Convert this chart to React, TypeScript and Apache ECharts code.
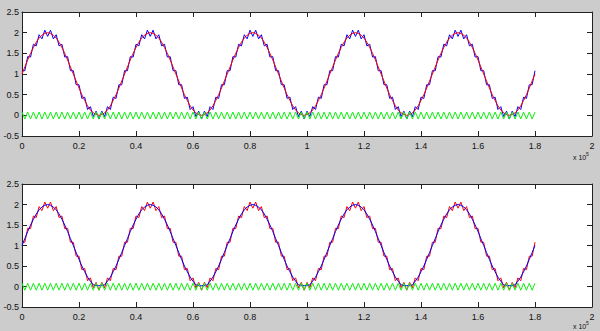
import React, { useEffect, useRef } from "react";
import * as echarts from "echarts";

// sample positions (x in samples, axis shown in units of 10^5)
const sampleIndex: number[] = Array.from({ length: 181 }, (_, i) => i);
const sampleStep = 1000;

// smooth reference signal (top: red)
const cleanSignal: number[] = [
  1.00, 1.17, 1.34, 1.50, 1.64, 1.77, 1.87, 1.94, 1.98, 2.00, 1.98, 1.94, 1.87, 1.77, 1.64, 1.50, 1.34, 1.17,
  1.00, 0.83, 0.66, 0.50, 0.36, 0.23, 0.13, 0.06, 0.02, 0.00, 0.02, 0.06, 0.13, 0.23, 0.36, 0.50, 0.66, 0.83,
  1.00, 1.17, 1.34, 1.50, 1.64, 1.77, 1.87, 1.94, 1.98, 2.00, 1.98, 1.94, 1.87, 1.77, 1.64, 1.50, 1.34, 1.17,
  1.00, 0.83, 0.66, 0.50, 0.36, 0.23, 0.13, 0.06, 0.02, 0.00, 0.02, 0.06, 0.13, 0.23, 0.36, 0.50, 0.66, 0.83,
  1.00, 1.17, 1.34, 1.50, 1.64, 1.77, 1.87, 1.94, 1.98, 2.00, 1.98, 1.94, 1.87, 1.77, 1.64, 1.50, 1.34, 1.17,
  1.00, 0.83, 0.66, 0.50, 0.36, 0.23, 0.13, 0.06, 0.02, 0.00, 0.02, 0.06, 0.13, 0.23, 0.36, 0.50, 0.66, 0.83,
  1.00, 1.17, 1.34, 1.50, 1.64, 1.77, 1.87, 1.94, 1.98, 2.00, 1.98, 1.94, 1.87, 1.77, 1.64, 1.50, 1.34, 1.17,
  1.00, 0.83, 0.66, 0.50, 0.36, 0.23, 0.13, 0.06, 0.02, 0.00, 0.02, 0.06, 0.13, 0.23, 0.36, 0.50, 0.66, 0.83,
  1.00, 1.17, 1.34, 1.50, 1.64, 1.77, 1.87, 1.94, 1.98, 2.00, 1.98, 1.94, 1.87, 1.77, 1.64, 1.50, 1.34, 1.17,
  1.00, 0.83, 0.66, 0.50, 0.36, 0.23, 0.13, 0.06, 0.02, 0.00, 0.02, 0.06, 0.13, 0.23, 0.36, 0.50, 0.66, 0.83,
  1.00,
];

// noisy signal (top: blue, bottom: red)
const noisySignal: number[] = [
  1.08, 1.08, 1.42, 1.41, 1.72, 1.68, 1.95, 1.85, 2.06, 1.91, 2.06, 1.85, 1.95, 1.68, 1.72, 1.41, 1.42, 1.08,
  1.08, 0.74, 0.74, 0.41, 0.44, 0.14, 0.21, -0.03, 0.10, -0.09, 0.10, -0.03, 0.21, 0.14, 0.44, 0.41, 0.74, 0.74,
  1.08, 1.08, 1.42, 1.41, 1.72, 1.68, 1.95, 1.85, 2.06, 1.91, 2.06, 1.85, 1.95, 1.68, 1.72, 1.41, 1.42, 1.08,
  1.08, 0.74, 0.74, 0.41, 0.44, 0.14, 0.21, -0.03, 0.10, -0.09, 0.10, -0.03, 0.21, 0.14, 0.44, 0.41, 0.74, 0.74,
  1.08, 1.08, 1.42, 1.41, 1.72, 1.68, 1.95, 1.85, 2.06, 1.91, 2.06, 1.85, 1.95, 1.68, 1.72, 1.41, 1.42, 1.08,
  1.08, 0.74, 0.74, 0.41, 0.44, 0.14, 0.21, -0.03, 0.10, -0.09, 0.10, -0.03, 0.21, 0.14, 0.44, 0.41, 0.74, 0.74,
  1.08, 1.08, 1.42, 1.41, 1.72, 1.68, 1.95, 1.85, 2.06, 1.91, 2.06, 1.85, 1.95, 1.68, 1.72, 1.41, 1.42, 1.08,
  1.08, 0.74, 0.74, 0.41, 0.44, 0.14, 0.21, -0.03, 0.10, -0.09, 0.10, -0.03, 0.21, 0.14, 0.44, 0.41, 0.74, 0.74,
  1.08, 1.08, 1.42, 1.41, 1.72, 1.68, 1.95, 1.85, 2.06, 1.91, 2.06, 1.85, 1.95, 1.68, 1.72, 1.41, 1.42, 1.08,
  1.08, 0.74, 0.74, 0.41, 0.44, 0.14, 0.21, -0.03, 0.10, -0.09, 0.10, -0.03, 0.21, 0.14, 0.44, 0.41, 0.74, 0.74,
  1.08,
];

// filtered signal (bottom: blue), flattened troughs
const filteredSignal: number[] = [
  1.00, 1.17, 1.34, 1.50, 1.64, 1.77, 1.87, 1.94, 1.98, 2.00, 1.98, 1.94, 1.87, 1.77, 1.64, 1.50, 1.34, 1.17,
  1.00, 0.83, 0.66, 0.50, 0.36, 0.23, 0.13, 0.04, 0.02, 0.02, 0.02, 0.04, 0.13, 0.23, 0.36, 0.50, 0.66, 0.83,
  1.00, 1.17, 1.34, 1.50, 1.64, 1.77, 1.87, 1.94, 1.98, 2.00, 1.98, 1.94, 1.87, 1.77, 1.64, 1.50, 1.34, 1.17,
  1.00, 0.83, 0.66, 0.50, 0.36, 0.23, 0.13, 0.04, 0.02, 0.02, 0.02, 0.04, 0.13, 0.23, 0.36, 0.50, 0.66, 0.83,
  1.00, 1.17, 1.34, 1.50, 1.64, 1.77, 1.87, 1.94, 1.98, 2.00, 1.98, 1.94, 1.87, 1.77, 1.64, 1.50, 1.34, 1.17,
  1.00, 0.83, 0.66, 0.50, 0.36, 0.23, 0.13, 0.04, 0.02, 0.02, 0.02, 0.04, 0.13, 0.23, 0.36, 0.50, 0.66, 0.83,
  1.00, 1.17, 1.34, 1.50, 1.64, 1.77, 1.87, 1.94, 1.98, 2.00, 1.98, 1.94, 1.87, 1.77, 1.64, 1.50, 1.34, 1.17,
  1.00, 0.83, 0.66, 0.50, 0.36, 0.23, 0.13, 0.04, 0.02, 0.02, 0.02, 0.04, 0.13, 0.23, 0.36, 0.50, 0.66, 0.83,
  1.00, 1.17, 1.34, 1.50, 1.64, 1.77, 1.87, 1.94, 1.98, 2.00, 1.98, 1.94, 1.87, 1.77, 1.64, 1.50, 1.34, 1.17,
  1.00, 0.83, 0.66, 0.50, 0.36, 0.23, 0.13, 0.04, 0.02, 0.02, 0.02, 0.04, 0.13, 0.23, 0.36, 0.50, 0.66, 0.83,
  1.00,
];

// noise component (green)
const noiseSignal: number[] = [
  0.08, -0.09, 0.08, -0.09, 0.08, -0.09, 0.08, -0.09, 0.08, -0.09, 0.08, -0.09, 0.08, -0.09, 0.08, -0.09, 0.08, -0.09,
  0.08, -0.09, 0.08, -0.09, 0.08, -0.09, 0.08, -0.09, 0.08, -0.09, 0.08, -0.09, 0.08, -0.09, 0.08, -0.09, 0.08, -0.09,
  0.08, -0.09, 0.08, -0.09, 0.08, -0.09, 0.08, -0.09, 0.08, -0.09, 0.08, -0.09, 0.08, -0.09, 0.08, -0.09, 0.08, -0.09,
  0.08, -0.09, 0.08, -0.09, 0.08, -0.09, 0.08, -0.09, 0.08, -0.09, 0.08, -0.09, 0.08, -0.09, 0.08, -0.09, 0.08, -0.09,
  0.08, -0.09, 0.08, -0.09, 0.08, -0.09, 0.08, -0.09, 0.08, -0.09, 0.08, -0.09, 0.08, -0.09, 0.08, -0.09, 0.08, -0.09,
  0.08, -0.09, 0.08, -0.09, 0.08, -0.09, 0.08, -0.09, 0.08, -0.09, 0.08, -0.09, 0.08, -0.09, 0.08, -0.09, 0.08, -0.09,
  0.08, -0.09, 0.08, -0.09, 0.08, -0.09, 0.08, -0.09, 0.08, -0.09, 0.08, -0.09, 0.08, -0.09, 0.08, -0.09, 0.08, -0.09,
  0.08, -0.09, 0.08, -0.09, 0.08, -0.09, 0.08, -0.09, 0.08, -0.09, 0.08, -0.09, 0.08, -0.09, 0.08, -0.09, 0.08, -0.09,
  0.08, -0.09, 0.08, -0.09, 0.08, -0.09, 0.08, -0.09, 0.08, -0.09, 0.08, -0.09, 0.08, -0.09, 0.08, -0.09, 0.08, -0.09,
  0.08, -0.09, 0.08, -0.09, 0.08, -0.09, 0.08, -0.09, 0.08, -0.09, 0.08, -0.09, 0.08, -0.09, 0.08, -0.09, 0.08, -0.09,
  0.08,
];

const xTickLabels: string[] = ["0", "0.2", "0.4", "0.6", "0.8", "1", "1.2", "1.4", "1.6", "1.8", "2"];
const yTickLabels: string[] = ["-0.5", "0", "0.5", "1", "1.5", "2", "2.5"];
const exponentText = "x 10";
const exponentPower = "5";

const FONT = "'Liberation Sans', Arial, sans-serif";

function pairs(values: number[]): [number, number][] {
  return sampleIndex.map((i) => [i * sampleStep, values[i]]);
}

export default function App() {
  const ref = useRef<HTMLDivElement>(null);

  useEffect(() => {
    if (!ref.current) return;
    const chart = echarts.init(ref.current, null, { renderer: "svg" });

    const xAxisBase = (gridIndex: number, position: "bottom" | "top", showLabel: boolean) => ({
      type: "value",
      gridIndex,
      position,
      min: 0,
      max: 200000,
      interval: 20000,
      axisLine: { show: true, onZero: false, lineStyle: { color: "#222", width: 1 } },
      axisTick: { show: true, inside: true, length: 5, lineStyle: { color: "#222" } },
      splitLine: { show: false },
      axisLabel: {
        show: showLabel,
        color: "#111",
        fontSize: 9,
        fontFamily: FONT,
        margin: 5,
        showMinLabel: true,
        showMaxLabel: true,
        formatter: (v: number) => xTickLabels[Math.round(v / 20000)] ?? "",
      },
    });

    const yAxisBase = (gridIndex: number, position: "left" | "right", showLabel: boolean) => ({
      type: "value",
      gridIndex,
      position,
      min: -0.5,
      max: 2.5,
      interval: 0.5,
      axisLine: { show: true, onZero: false, lineStyle: { color: "#222", width: 1 } },
      axisTick: { show: true, inside: true, length: 5, lineStyle: { color: "#222" } },
      splitLine: { show: false },
      axisLabel: {
        show: showLabel,
        color: "#111",
        fontSize: 9,
        fontFamily: FONT,
        margin: 3,
        showMinLabel: true,
        showMaxLabel: true,
        formatter: (v: number) => yTickLabels[Math.round((v + 0.5) / 0.5)] ?? "",
      },
    });

    const line = (name: string, values: number[], color: string, xi: number, yi: number) => ({
      name,
      type: "line",
      xAxisIndex: xi,
      yAxisIndex: yi,
      data: pairs(values),
      showSymbol: false,
      symbol: "none",
      lineStyle: { color, width: 1 },
      silent: true,
    });

    chart.setOption({
      animation: false,
      backgroundColor: "#cccccc",
      grid: [
        { left: 22, top: 12, width: 570, height: 124, show: true, backgroundColor: "#ffffff", borderWidth: 0 },
        { left: 22, top: 184, width: 570, height: 123, show: true, backgroundColor: "#ffffff", borderWidth: 0 },
      ],
      xAxis: [
        xAxisBase(0, "bottom", true),
        xAxisBase(0, "top", false),
        xAxisBase(1, "bottom", true),
        xAxisBase(1, "top", false),
      ],
      yAxis: [
        yAxisBase(0, "left", true),
        yAxisBase(0, "right", false),
        yAxisBase(1, "left", true),
        yAxisBase(1, "right", false),
      ],
      series: [
        line("noisy", noisySignal, "#0000ff", 0, 0),
        line("clean", cleanSignal, "#ff0000", 0, 0),
        line("noise", noiseSignal, "#11ee11", 0, 0),
        line("noisy2", noisySignal, "#ff0000", 2, 2),
        line("filtered", filteredSignal, "#0000ff", 2, 2),
        line("noise2", noiseSignal, "#11ee11", 2, 2),
      ],
      graphic: [
        { type: "text", left: 573, top: 154, style: { text: exponentText, fontSize: 7, fontFamily: FONT, fill: "#111" } },
        { type: "text", left: 586, top: 151, style: { text: exponentPower, fontSize: 5, fontFamily: FONT, fill: "#111" } },
        { type: "text", left: 573, top: 323, style: { text: exponentText, fontSize: 7, fontFamily: FONT, fill: "#111" } },
        { type: "text", left: 586, top: 320, style: { text: exponentPower, fontSize: 5, fontFamily: FONT, fill: "#111" } },
      ],
    });

    return () => chart.dispose();
  }, []);

  return (
    <div
      ref={ref}
      style={{ position: "absolute", left: 0, top: 0, width: 600, height: 331 }}
    />
  );
}
